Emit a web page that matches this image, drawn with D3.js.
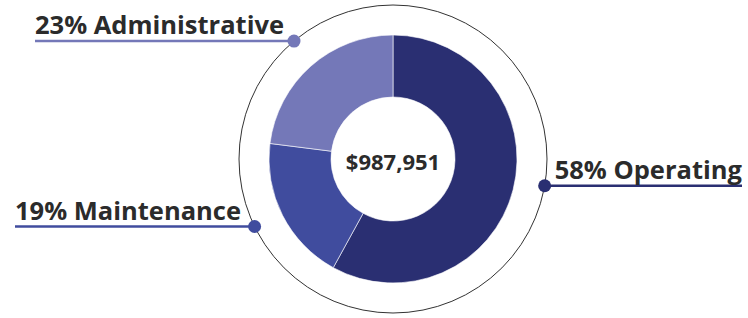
<!DOCTYPE html>
<html>
<head>
<meta charset="utf-8">
<script src="https://cdn.jsdelivr.net/npm/d3@7"></script>
<style>
  body { margin: 0; background: #fff; }
  text { font-family: "Open Sans", sans-serif; font-weight: 700; fill: #2b2b2b; }
</style>
</head>
<body>
<svg width="748" height="318"></svg>
<script>
// data
let categories = ["Operating", "Maintenance", "Administrative"],
    shares = [58, 19, 23],
    colors = ["#2a2f72", "#404c9e", "#7478b8"],
    labelAngles = [100, 244, 320],   // where each callout touches the ring (deg, clockwise from top)
    total = 987951;

let svg = d3.select("svg"),
    width = +svg.attr("width"),
    height = +svg.attr("height"),
    cx = 393, cy = 159,
    outerR = 124, innerR = 62, ringR = 154;

let g = svg.append("g").attr("transform", "translate(" + cx + "," + cy + ")");

let pie = d3.pie().sort(null).value(function(d) { return d; });
let arc = d3.arc().innerRadius(innerR).outerRadius(outerR);

let slices = pie(shares);

g.selectAll("path.slice")
    .data(slices)
  .enter().append("path")
    .attr("class", "slice")
    .attr("d", arc)
    .attr("fill", function(d, i) { return colors[i]; })
    .attr("stroke", "#fff")
    .attr("stroke-width", 0.6);

// thin outer ring
g.append("circle")
    .attr("r", ringR)
    .attr("fill", "none")
    .attr("stroke", "#333")
    .attr("stroke-width", 1);

g.append("text")
    .attr("text-anchor", "middle")
    .attr("dy", "0.35em")
    .attr("y", 3)
    .style("font-size", "22px")
    .text("$" + d3.format(",")(total));

// callouts
let fmt = function(i) { return shares[i] + "% " + categories[i]; };

categories.forEach(function(c, i) {
  let a = labelAngles[i] * Math.PI / 180,
      px = Math.sin(a) * ringR,
      py = -Math.cos(a) * ringR,
      right = px > 0;

  let lineEnd = right ? width - 6 - cx : (i === 1 ? 15 : 35) - cx;

  g.append("line")
      .attr("x1", px).attr("y1", py)
      .attr("x2", lineEnd).attr("y2", py)
      .attr("stroke", colors[i])
      .attr("stroke-width", 2.5);

  g.append("circle")
      .attr("cx", px).attr("cy", py)
      .attr("r", 6.5)
      .attr("fill", colors[i]);

  g.append("text")
      .attr("x", right ? px + 10 : lineEnd)
      .attr("y", py - 7)
      .style("font-size", "25.5px")
      .text(fmt(i));
});
</script>
</body>
</html>
